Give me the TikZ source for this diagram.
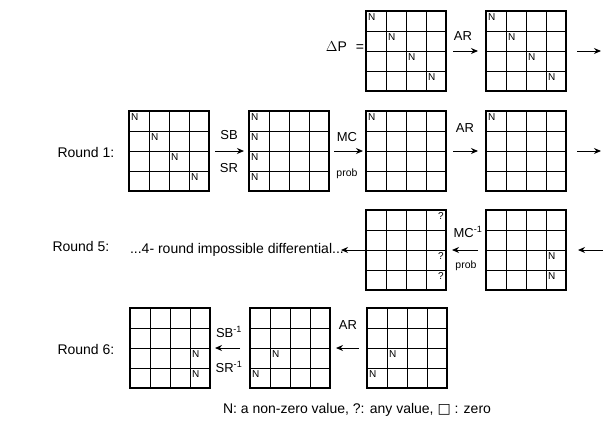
\documentclass[tikz,border=0pt]{standalone}
\usepackage{fontspec}
\setmainfont{Liberation Sans}
\newfontfamily\symfont{DejaVu Sans}
\usetikzlibrary{arrows.meta,calc}

% one 4x4 state: outer box plus inner cell lines
\newcommand{\stategrid}[3]{%
  \node[box] (#1) at (#2,#3) {};
  \foreach \k in {1,2,3} {
    \draw[cellline] ($(#1.north west)+(\k*20,0)$) -- ++(0,80);
    \draw[cellline] ($(#1.north west)+(0,\k*20)$) -- ++(80,0);
  }}
% mark in cell (row,col)
\newcommand{\cellN}[3]{%
  \node[nmark, anchor=north west] (#1-#2#3) at ($(#1.north west)+({(#3-1)*20},{(#2-1)*20})$) {N};}
\newcommand{\cellQ}[3]{%
  \node[nmark, anchor=north east] (#1-#2#3) at ($(#1.north west)+({#3*20},{(#2-1)*20})$) {?};}

\begin{document}
\begin{tikzpicture}[x=1pt, y=-1pt, every node/.style={font=\fontsize{14}{16}\selectfont},
    box/.style={draw, line width=1.4pt, minimum size=80pt, inner sep=0pt, outer sep=0pt},
    cellline/.style={line width=0.9pt},
    nmark/.style={font=\fontsize{10}{11}\selectfont, inner sep=2pt},
    oplab/.style={font=\fontsize{13}{14}\selectfont, inner sep=0pt},
    problab/.style={font=\fontsize{10.5}{12}\selectfont, inner sep=0pt},
    arr/.style={-{Stealth[length=7pt,width=6pt]}, line width=1pt, shorten <=7pt, shorten >=8pt}]
  \useasboundingbox (0,0) rectangle (603,421);

  % Delta P
  \node (dp) at (345,47) {$\Delta$P\hspace{9pt}=};
  \stategrid{g01}{406}{51}
  \stategrid{g02}{526}{51}
  \foreach \i in {1,...,4} {\cellN{g01}{\i}{\i} \cellN{g02}{\i}{\i}}
  \coordinate (rt0) at (601,51);
  \draw[arr] (g01) -- (g02);
  \node[oplab] (ar0) at (463,36) {AR};
  \draw[arr, shorten <=11pt, shorten >=0pt] (g02) -- (rt0);

  % round 1
  \node[anchor=west] (r1) at (54,152) {Round 1:};
  \stategrid{g11}{169}{151}
  \stategrid{g12}{289}{151}
  \stategrid{g13}{406}{151}
  \stategrid{g14}{526}{151}
  \foreach \i in {1,...,4} {\cellN{g11}{\i}{\i} \cellN{g12}{\i}{1}}
  \cellN{g13}{1}{1}
  \cellN{g14}{1}{1}
  \draw[arr, shorten <=6pt, shorten >=5pt] (g11) -- (g12);
  \node[oplab] (sb) at (229,135) {SB};
  \node[oplab] (sr) at (229,168) {SR};
  \draw[arr, shorten <=5pt, shorten >=3pt] (g12) -- (g13);
  \node[oplab] (mc) at (347,137) {MC};
  \node[problab] (pr1) at (347,174) {prob};
  \draw[arr] (g13) -- (g14);
  \node[oplab] (ar1) at (465,128) {AR};
  \coordinate (rt1) at (601,151);
  \draw[arr, shorten <=11pt, shorten >=0pt] (g14) -- (rt1);

  % round 5
  \node[anchor=west] (r5) at (49,246) {Round 5:};
  \stategrid{g51}{406}{250}
  \stategrid{g52}{526}{250}
  \cellQ{g51}{1}{4} \cellQ{g51}{3}{4} \cellQ{g51}{4}{4}
  \cellN{g52}{3}{4} \cellN{g52}{4}{4}
  \coordinate (rt5) at (603,250);
  \draw[arr, shorten <=0pt, shorten >=12pt] (rt5) -- (g52);
  \draw[arr, shorten <=8pt, shorten >=6pt] (g52) -- (g51);
  \node[oplab] (mci) at (468,232) {MC\textsuperscript{-1}};
  \node[problab] (pr5) at (466,266) {prob};
  \node[anchor=east, inner sep=0pt] (diff) at (344,250) {...4- round impossible differential...};
  \draw[arr, shorten <=0pt, shorten >=-3pt] (g51) -- (diff);

  % round 6
  \node[anchor=west] (r6) at (54,349) {Round 6:};
  \stategrid{g61}{170}{348}
  \stategrid{g62}{290}{348}
  \stategrid{g63}{407}{348}
  \cellN{g61}{3}{4} \cellN{g61}{4}{4}
  \cellN{g62}{3}{2} \cellN{g62}{4}{1}
  \cellN{g63}{3}{2} \cellN{g63}{4}{1}
  \draw[arr, shorten <=8pt, shorten >=6pt] (g63) -- (g62);
  \node[oplab] (ar6) at (348,325) {AR};
  \draw[arr, shorten <=10pt, shorten >=5pt] (g62) -- (g61);
  \node[oplab] (sbi) at (229,332) {SB\textsuperscript{-1}};
  \node[oplab] (sri) at (229,367) {SR\textsuperscript{-1}};

  % legend
  \node (legend) at (357,410) {N: a non-zero value, ?: any value, {\symfont □} : zero};
\end{tikzpicture}
\end{document}
